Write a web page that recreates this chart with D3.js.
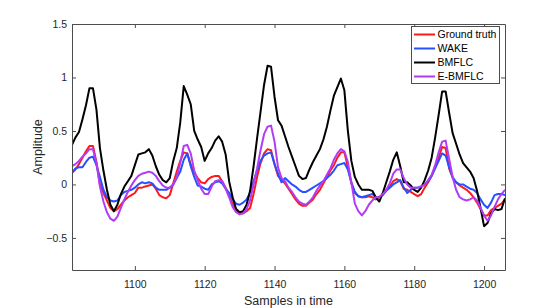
<!DOCTYPE html>
<html>
<head>
<meta charset="utf-8">
<script src="https://d3js.org/d3.v7.min.js"></script>
<style>
  body { margin: 0; background: #fff; }
  text { font-family: "Liberation Sans", Arial, Helvetica, sans-serif; fill: #262626; }
</style>
</head>
<body>
<div id="vis"></div>
<script>
// samples shown on the x axis
var firstSample = 1082;
var lastSample = 1206;

var xTicks = [1100, 1120, 1140, 1160, 1180, 1200];
var yTicks = [-0.5, 0, 0.5, 1, 1.5];

var seriesNames = ['Ground truth', 'WAKE', 'BMFLC', 'E-BMFLC'];
var seriesColors = ['#ff1a1a', '#2650ff', '#000000', '#b13cf5'];

// one value per sample, 1082 .. 1206
var groundTruth = [
  0.11, 0.14, 0.19, 0.25, 0.31, 0.36, 0.36, 0.21, 0.00, -0.08,
  -0.15, -0.22, -0.25, -0.23, -0.19, -0.15, -0.12, -0.10, -0.08, -0.03,
  -0.03, -0.02, -0.01, 0.00, -0.04, -0.10, -0.12, -0.13, -0.10, 0.01,
  0.12, 0.22, 0.30, 0.29, 0.19, 0.11, 0.06, 0.02, 0.01, 0.05,
  0.07, 0.08, 0.08, 0.03, -0.03, -0.11, -0.18, -0.24, -0.27, -0.27,
  -0.25, -0.22, -0.09, 0.07, 0.20, 0.29, 0.33, 0.32, 0.19, 0.08,
  0.04, 0.01, -0.04, -0.09, -0.14, -0.18, -0.20, -0.20, -0.17, -0.14,
  -0.09, -0.05, 0.01, 0.07, 0.13, 0.18, 0.25, 0.30, 0.30, 0.16,
  0.01, -0.08, -0.11, -0.12, -0.12, -0.11, -0.12, -0.14, -0.12, -0.09,
  -0.05, -0.02, 0.03, 0.05, 0.03, -0.04, -0.05, -0.07, -0.09, -0.11,
  -0.09, -0.03, 0.02, 0.08, 0.16, 0.25, 0.35, 0.34, 0.15, 0.06,
  0.02, -0.01, -0.03, -0.05, -0.08, -0.12, -0.17, -0.23, -0.29, -0.29,
  -0.24, -0.22, -0.20, -0.18, -0.14
];

var wake = [
  0.11, 0.15, 0.16, 0.16, 0.21, 0.25, 0.26, 0.18, 0.07, -0.05,
  -0.12, -0.15, -0.16, -0.15, -0.10, -0.07, -0.06, -0.05, -0.03, 0.00,
  0.02, 0.01, 0.02, 0.01, -0.03, -0.05, -0.05, -0.05, -0.03, 0.00,
  0.06, 0.12, 0.23, 0.29, 0.17, 0.07, -0.01, -0.02, -0.04, -0.05,
  0.00, 0.02, 0.03, 0.01, -0.04, -0.08, -0.14, -0.18, -0.19, -0.17,
  -0.14, -0.08, 0.03, 0.13, 0.22, 0.27, 0.29, 0.30, 0.19, 0.10,
  0.02, 0.06, 0.03, 0.00, -0.02, -0.05, -0.07, -0.07, -0.05, -0.03,
  -0.01, 0.01, 0.03, 0.06, 0.09, 0.13, 0.18, 0.19, 0.20, 0.14,
  0.02, -0.07, -0.11, -0.12, -0.11, -0.10, -0.09, -0.12, -0.12, -0.10,
  -0.06, -0.03, 0.00, 0.02, 0.04, -0.03, -0.08, -0.05, -0.03, -0.03,
  -0.02, 0.00, 0.03, 0.08, 0.15, 0.22, 0.29, 0.27, 0.16, 0.07,
  0.02, 0.00, 0.00, -0.02, -0.04, -0.05, -0.08, -0.14, -0.19, -0.22,
  -0.17, -0.10, -0.09, -0.09, -0.10
];

var bmflc = [
  0.37, 0.44, 0.49, 0.61, 0.74, 0.90, 0.90, 0.70, 0.34, 0.13,
  -0.05, -0.19, -0.25, -0.19, -0.09, -0.02, 0.03, 0.08, 0.18, 0.28,
  0.29, 0.30, 0.33, 0.27, 0.17, 0.09, 0.04, 0.02, 0.06, 0.22,
  0.34, 0.58, 0.92, 0.84, 0.75, 0.50, 0.42, 0.35, 0.22, 0.29,
  0.34, 0.41, 0.45, 0.40, 0.28, 0.03, -0.12, -0.23, -0.26, -0.25,
  -0.19, -0.06, 0.17, 0.43, 0.68, 0.93, 1.11, 1.10, 0.82, 0.60,
  0.55, 0.45, 0.35, 0.26, 0.17, 0.08, 0.05, 0.06, 0.14, 0.21,
  0.27, 0.33, 0.42, 0.54, 0.69, 0.83, 0.91, 0.99, 0.88, 0.50,
  0.22, 0.07, 0.00, -0.05, -0.05, -0.05, -0.06, -0.12, -0.16, -0.08,
  0.02, 0.12, 0.23, 0.30, 0.17, 0.02, 0.02, -0.01, -0.05, -0.07,
  -0.03, 0.04, 0.13, 0.25, 0.44, 0.65, 0.87, 0.87, 0.67, 0.48,
  0.38, 0.28, 0.20, 0.16, 0.12, 0.06, -0.06, -0.22, -0.39, -0.36,
  -0.27, -0.23, -0.24, -0.23, -0.13
];

var eBmflc = [
  0.17, 0.19, 0.22, 0.26, 0.29, 0.33, 0.33, 0.20, -0.02, -0.16,
  -0.26, -0.32, -0.34, -0.30, -0.22, -0.14, -0.07, -0.01, 0.04, 0.08,
  0.10, 0.11, 0.12, 0.11, 0.08, 0.03, -0.01, -0.03, -0.03, 0.00,
  0.07, 0.20, 0.36, 0.37, 0.29, 0.13, 0.04, -0.04, -0.09, -0.09,
  -0.02, 0.03, 0.04, 0.03, -0.04, -0.12, -0.21, -0.26, -0.28, -0.27,
  -0.23, -0.15, 0.00, 0.15, 0.32, 0.47, 0.54, 0.55, 0.40, 0.16,
  0.06, 0.03, -0.03, -0.07, -0.12, -0.16, -0.18, -0.19, -0.16, -0.12,
  -0.06, -0.01, 0.03, 0.09, 0.15, 0.23, 0.29, 0.33, 0.31, 0.21,
  0.02, -0.18, -0.25, -0.29, -0.25, -0.19, -0.15, -0.12, -0.12, -0.09,
  -0.05, 0.01, 0.10, 0.14, 0.14, 0.06, 0.00, -0.03, -0.03, -0.03,
  -0.02, 0.00, 0.04, 0.09, 0.18, 0.30, 0.40, 0.41, 0.24, 0.07,
  -0.05, -0.12, -0.14, -0.15, -0.14, -0.12, -0.15, -0.22, -0.29, -0.34,
  -0.29, -0.21, -0.14, -0.09, -0.05
];

var allSeries = [groundTruth, wake, bmflc, eBmflc];

var width = 558;
var height = 308;
var margin = { top: 24, right: 53, bottom: 38, left: 72 };
var plotW = width - margin.left - margin.right;
var plotH = height - margin.top - margin.bottom;
var axisColor = '#4d4d4d';

var x = d3.scaleLinear().domain([firstSample, lastSample]).range([0, plotW]);
var y = d3.scaleLinear().domain([-0.8, 1.5]).range([plotH, 0]);

var svg = d3.select('#vis')
  .append('svg')
  .attr('width', width)
  .attr('height', height);

var g = svg.append('g')
  .attr('transform', 'translate(' + margin.left + ',' + margin.top + ')');

g.append('clipPath').attr('id', 'plotclip')
  .append('rect').attr('width', plotW).attr('height', plotH);

// the four curves
var line = d3.line()
  .x(function (d, i) { return x(firstSample + i); })
  .y(function (d) { return y(d); });

g.append('g')
  .attr('clip-path', 'url(#plotclip)')
  .selectAll('path')
  .data(allSeries)
  .enter().append('path')
  .attr('d', line)
  .attr('fill', 'none')
  .attr('stroke', function (d, i) { return seriesColors[i]; })
  .attr('stroke-width', 2)
  .attr('stroke-linejoin', 'round');

// matlab style box with inward ticks on all sides
function styleAxis(sel) {
  sel.select('.domain').attr('stroke', axisColor);
  sel.selectAll('.tick line').attr('stroke', axisColor);
  sel.selectAll('.tick text')
    .attr('fill', '#262626')
    .style('font-size', '10.5px')
    .style('font-family', '"Liberation Sans", Arial, sans-serif');
}

var fmt = function (d) { return d3.format('')(d); };

g.append('g')
  .attr('transform', 'translate(0,' + plotH + ')')
  .call(d3.axisBottom(x).tickValues(xTicks).tickSizeInner(-4).tickSizeOuter(0).tickPadding(10.5).tickFormat(fmt))
  .call(styleAxis);

g.append('g')
  .call(d3.axisTop(x).tickValues(xTicks).tickSizeInner(-4).tickSizeOuter(0).tickFormat(''))
  .call(styleAxis);

g.append('g')
  .call(d3.axisLeft(y).tickValues(yTicks).tickSizeInner(-4).tickSizeOuter(0).tickPadding(5).tickFormat(fmt))
  .call(styleAxis);

g.append('g')
  .attr('transform', 'translate(' + plotW + ',0)')
  .call(d3.axisRight(y).tickValues(yTicks).tickSizeInner(-4).tickSizeOuter(0).tickFormat(''))
  .call(styleAxis);

// axis titles
svg.append('text')
  .attr('x', margin.left + plotW / 2)
  .attr('y', 305)
  .attr('text-anchor', 'middle')
  .style('font-size', '12.5px')
  .text('Samples in time');

svg.append('text')
  .attr('transform', 'translate(42,' + (margin.top + plotH / 2) + ') rotate(-90)')
  .attr('text-anchor', 'middle')
  .style('font-size', '12.5px')
  .text('Amplitude');

// legend
var legend = svg.append('g').attr('transform', 'translate(411,26)');

legend.append('rect')
  .attr('x', 0.5)
  .attr('y', 0.5)
  .attr('width', 88)
  .attr('height', 57)
  .attr('fill', '#fff')
  .attr('stroke', axisColor);

var items = legend.selectAll('.item')
  .data(seriesNames)
  .enter().append('g')
  .attr('class', 'item')
  .attr('transform', function (d, i) { return 'translate(0,' + (8.5 + i * 14) + ')'; });

items.append('line')
  .attr('x1', 3).attr('x2', 24)
  .attr('stroke', function (d, i) { return seriesColors[i]; })
  .attr('stroke-width', 2);

items.append('text')
  .attr('x', 26.5)
  .attr('dy', '0.35em')
  .style('font-size', '10.5px')
  .style('fill', '#000')
  .text(function (d) { return d; });
</script>
</body>
</html>
